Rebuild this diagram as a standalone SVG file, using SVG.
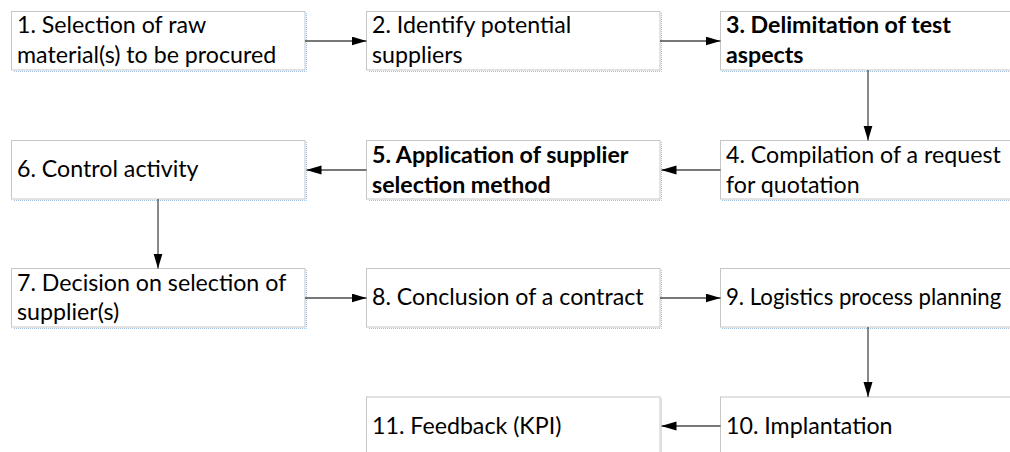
<svg xmlns="http://www.w3.org/2000/svg" width="1010" height="452" viewBox="0 0 1010 452">
  <style>
    .box { fill: #ffffff; stroke: #c6c6c6; stroke-width: 1; }
    .edge { fill: none; stroke: #9dc3e6; stroke-width: 1; stroke-dasharray: 1 1; }
    .label { font-family: Lato, "Open Sans", sans-serif; font-size: 23.2px; fill: #000000; }
    .bold { font-weight: bold; }
    .conn { fill: none; stroke: #4a4a4a; stroke-width: 1.3; marker-end: url(#arrow); }
  </style>
  <defs>
    <marker id="arrow" markerUnits="userSpaceOnUse" markerWidth="15" markerHeight="10" refX="15" refY="4.5" orient="auto">
      <path d="M0,0 L15,4.5 L0,9 z" fill="#000000"/>
    </marker>
  </defs>
  <rect width="1010" height="452" fill="#ffffff"/>

  <!-- process steps -->
  <g id="step1">
    <rect class="box" x="11.5" y="11.5" width="293.5" height="58.5"/>
    <path class="edge" d="M306.5,13 V71.5 H13"/>
    <text class="label" x="17" y="33">1. Selection of raw</text>
    <text class="label" x="17" y="63">material(s) to be procured</text>
  </g>
  <g id="step2">
    <rect class="box" x="366.5" y="11.5" width="293.5" height="58.5"/>
    <path class="edge" d="M661.5,13 V71.5 H368"/>
    <text class="label" x="372" y="33">2. Identify potential</text>
    <text class="label" x="372" y="63">suppliers</text>
  </g>
  <g id="step3">
    <rect class="box" x="720.5" y="11.5" width="293.5" height="58.5"/>
    <path class="edge" d="M722,71.5 H1012"/>
    <text class="label bold" x="726" y="33">3. Delimitation of test</text>
    <text class="label bold" x="726" y="63">aspects</text>
  </g>
  <g id="step4">
    <rect class="box" x="720.5" y="140.5" width="293.5" height="58.5"/>
    <path class="edge" d="M722,200.5 H1012"/>
    <text class="label" x="726" y="163">4. Compilation of a request</text>
    <text class="label" x="726" y="193">for quotation</text>
  </g>
  <g id="step5">
    <rect class="box" x="366.5" y="140.5" width="293.5" height="58.5"/>
    <path class="edge" d="M661.5,142 V200.5 H368"/>
    <text class="label bold" x="372" y="163">5. Application of supplier</text>
    <text class="label bold" x="372" y="193">selection method</text>
  </g>
  <g id="step6">
    <rect class="box" x="11.5" y="140.5" width="293.5" height="58.5"/>
    <path class="edge" d="M306.5,142 V200.5 H13"/>
    <text class="label" x="17" y="177">6. Control activity</text>
  </g>
  <g id="step7">
    <rect class="box" x="11.5" y="268.5" width="293.5" height="58.5"/>
    <path class="edge" d="M306.5,270 V328.5 H13"/>
    <text class="label" x="17" y="291">7. Decision on selection of</text>
    <text class="label" x="17" y="320">supplier(s)</text>
  </g>
  <g id="step8">
    <rect class="box" x="366.5" y="268.5" width="293.5" height="58.5"/>
    <path class="edge" d="M661.5,270 V328.5 H368"/>
    <text class="label" x="372" y="305">8. Conclusion of a contract</text>
  </g>
  <g id="step9">
    <rect class="box" x="720.5" y="268.5" width="293.5" height="58.5"/>
    <path class="edge" d="M722,328.5 H1012"/>
    <text class="label" x="726" y="305" style="font-size:22.2px">9. Logistics process planning</text>
  </g>
  <g id="step10">
    <rect class="box" x="720.5" y="397" width="293.5" height="58.5"/>
    <text class="label" x="726" y="434">10. Implantation</text>
  </g>
  <g id="step11">
    <rect class="box" x="366.5" y="397" width="293.5" height="58.5"/>
    <path class="edge" d="M661.5,398.5 V452"/>
    <text class="label" x="372" y="434">11. Feedback (KPI)</text>
  </g>

  <!-- connectors -->
  <g id="connectors">
    <line class="conn" x1="305" y1="41" x2="366.5" y2="41"/>
    <line class="conn" x1="660" y1="41" x2="720.5" y2="41"/>
    <line class="conn" x1="868" y1="70" x2="868" y2="140.5"/>
    <line class="conn" x1="720.5" y1="170" x2="661.5" y2="170"/>
    <line class="conn" x1="366.5" y1="170" x2="306.5" y2="170"/>
    <line class="conn" x1="158" y1="199" x2="158" y2="268.5"/>
    <line class="conn" x1="305" y1="298" x2="366.5" y2="298"/>
    <line class="conn" x1="660" y1="298" x2="720.5" y2="298"/>
    <line class="conn" x1="868" y1="327" x2="868" y2="397"/>
    <line class="conn" x1="720.5" y1="426" x2="661.5" y2="426"/>
  </g>
</svg>
